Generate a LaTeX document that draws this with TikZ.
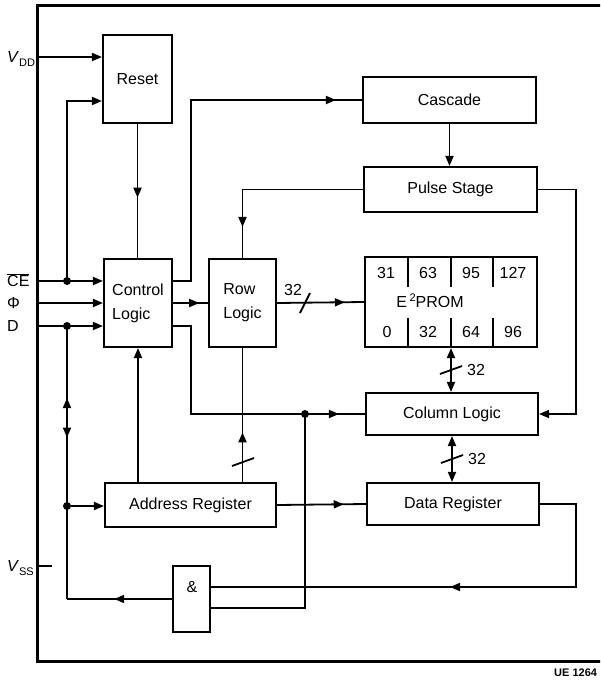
\documentclass[tikz,border=0pt]{standalone}
\usepackage{fontspec}
\setmainfont{Liberation Sans}
\usetikzlibrary{arrows.meta,decorations.markings}
\newcommand\subtxt[1]{\raisebox{-3.5pt}{\fontsize{11}{12}\selectfont #1}}
\begin{document}
\begin{tikzpicture}[x=1pt,y=-1pt,
  box/.style={draw, line width=2.1pt, inner sep=0pt, font=\fontsize{16}{24}\selectfont},
  wire/.style={line width=1.8pt},
  arr/.style={wire, -{Triangle[length=10pt,width=8pt]}},
  biarr/.style={wire, {Triangle[length=10pt,width=8pt]}-{Triangle[length=10pt,width=8pt]}},
  midarr/.style={postaction={decorate, decoration={markings, mark=at position #1 with {\arrow{Triangle[length=10pt,width=8pt]}}}}},
  midrev/.style={postaction={decorate, decoration={markings, mark=at position #1 with {\arrowreversed{Triangle[length=10pt,width=8pt]}}}}},
  dot/.style={circle, fill, inner sep=0pt, minimum size=8pt},
  lbl/.style={font=\fontsize{16}{19}\selectfont, inner sep=0pt},
  sig/.style={font=\fontsize{16}{18}\selectfont, inner sep=0pt, anchor=west}
]
\useasboundingbox (0,0) rectangle (600,683);
\clip (0,0) rectangle (600,683);

% frame
\draw[line width=3pt] (606,5) -- (37,5) -- (37,661) -- (606,661);

% blocks
\node[box, minimum width=69pt, minimum height=88pt] (reset) at (137.5,79) {Reset};
\node[box, minimum width=68pt, minimum height=88pt, align=left] (ctrl) at (138,303) {Control\\Logic};
\node[box, minimum width=67pt, minimum height=88pt, align=left] (row) at (242.5,303) {Row\\Logic};
\node[box, minimum width=173pt, minimum height=46pt] (cascade) at (449.5,100) {Cascade};
\node[box, minimum width=173pt, minimum height=45pt] (pulse) at (450.5,189.5) {Pulse Stage};
\node[box, minimum width=172pt, minimum height=90pt] (eprom) at (451,302) {};
\node[box, minimum width=172pt, minimum height=42pt] (col) at (452,414) {Column Logic};
\node[box, minimum width=171pt, minimum height=44pt] (addr) at (190.5,505) {Address Register};
\node[box, minimum width=172pt, minimum height=42pt] (data) at (453,504) {Data Register};
\node[box, minimum width=37pt, minimum height=66pt] (and) at (191.5,599) {};
\node[lbl] (andl) at (192,587) {\&};

% E2PROM interior
\draw[wire] (408,257) -- (408,287);
\draw[wire] (451,257) -- (451,287);
\draw[wire] (493,257) -- (493,287);
\draw[wire] (408,318) -- (408,347);
\draw[wire] (451,318) -- (451,347);
\draw[wire] (493,318) -- (493,347);
\node[lbl] (n31) at (386,273) {31};
\node[lbl] (n63) at (428,273) {63};
\node[lbl] (n95) at (471,273) {95};
\node[lbl] (n127) at (513,273) {127};
\node[lbl] (n0) at (387,332) {0};
\node[lbl] (n32) at (428,332) {32};
\node[lbl] (n64) at (471,332) {64};
\node[lbl] (n96) at (513,332) {96};
\node[lbl] (eptxt) at (430,301) {E\,\raisebox{6pt}{\fontsize{11}{12}\selectfont 2}PROM};

% signal labels and inputs
\coordinate (vdd) at (37,57);
\coordinate (ce) at (37,281);
\coordinate (phi) at (37,303);
\coordinate (d) at (37,326);
\coordinate (vss) at (37,566);
\coordinate (rin) at (103,101);
\node[sig] (vddl) at (7,59) {\textit{V}\subtxt{DD}};
\node[sig] (cel) at (7,280) {$\overline{\mbox{CE}}$};
\node[sig] (phil) at (7,303) {Φ};
\node[sig] (dl) at (7,326) {D};
\node[sig] (vssl) at (7,568) {\textit{V}\subtxt{SS}};

\draw[arr] (vdd) -- (reset.west |- vdd);
\draw[arr] (ce) -- (ctrl.west |- ce);
\draw[arr] (phi) -- (ctrl.west |- phi);
\draw[arr] (d) -- (ctrl.west |- d);
\draw[wire] (vss) -- ++(15,0);

\node[dot] (cej) at (67,281) {};
\node[dot] (dj) at (67,326) {};
\node[dot] (aj) at (67,506) {};
\coordinate (ajl) at (67,599);
\draw[arr] (cej.center) |- (reset.west |- rin);

% reset to control
\draw[wire, midarr=0.55] (reset.south) -- (reset.south |- ctrl.north);

% control to cascade
\draw[wire, midarr=-26pt] (ctrl.east |- ce) -- ++(18,0) |- (cascade.west);
% cascade to pulse
\draw[arr] (cascade.south) -- (cascade.south |- pulse.north);
% pulse to row
\draw[wire, midarr=-31pt] (pulse.west) -| (row.north);
% pulse to column
\draw[arr] (pulse.east) -- ++(38,0) |- (col.east);
% control to row
\draw[wire, midarr=0.75] (ctrl.east) -- (row.west);
% control to column
\node[dot] (cj) at (305,414) {};
\draw[wire, midarr=-26pt] (ctrl.east |- d) -- ++(18,0) |- (col.west);
\coordinate (andlo) at (210,608);
\coordinate (andhi) at (210,587);
\draw[wire] (cj.center) |- (and.east |- andlo);

% row to eprom
\draw[wire, midarr=0.78] (row.east) -- (eprom.west);
\draw[wire] (300,313) -- (310,293);
\node[lbl] (l32a) at (293,290) {32};

% eprom <-> column
\draw[biarr] (eprom.south) -- (eprom.south |- col.north);
\draw[wire] (440,374) -- (462,366);
\node[lbl] (l32b) at (476,370) {32};
% column <-> data
\draw[biarr] (col.south) -- (col.south |- data.north);
\draw[wire] (441,463) -- (463,455);
\node[lbl] (l32c) at (477,459) {32};

% address register connections
\draw[arr] (ctrl.south |- addr.north) -- (ctrl.south);
\draw[wire, midarr=0.37] (row.south |- addr.north) -- (row.south);
\draw[wire] (232,466) -- (254,458);
\draw[wire, midarr=0.75] (addr.east) -- (data.west);

% data register feedback to AND
\draw[wire, midarr=-239pt] (data.east) -- ++(36,0) |- (and.east |- andhi);

% AND output back to left
\draw[wire, midarr=0.55] (and.west) -- (ajl);
\draw[wire] (ajl) -- (aj.center);
\draw[wire, midarr=0.6, midrev=0.38] (aj.center) -- (dj.center);
\draw[arr] (aj) -- (addr.west |- aj);

\node[font=\bfseries\fontsize{11}{12}\selectfont, anchor=west, inner sep=0pt] (ue) at (554,673) {UE 1264};
\end{tikzpicture}
\end{document}
